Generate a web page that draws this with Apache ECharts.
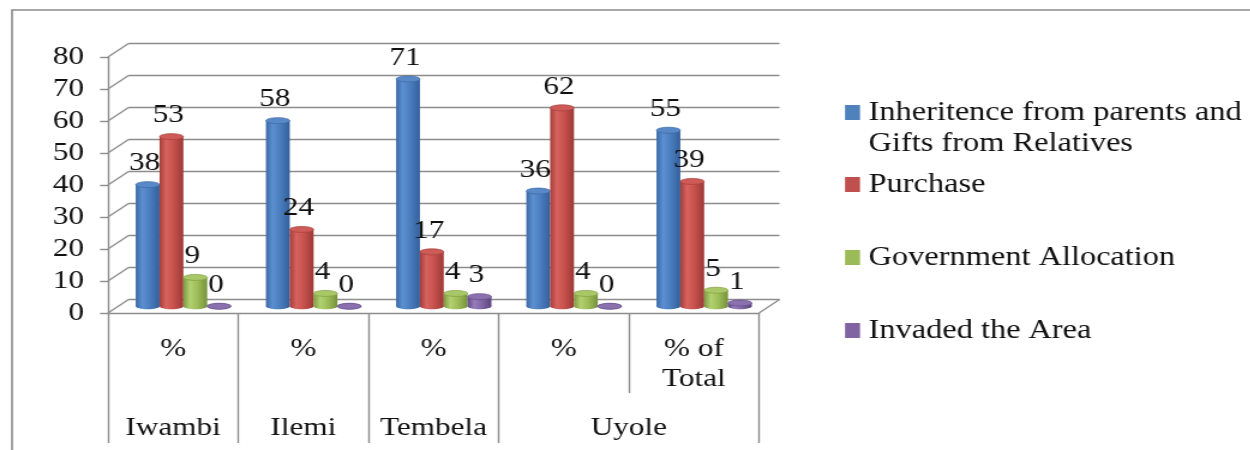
<!DOCTYPE html>
<html>
<head>
<meta charset="utf-8">
<title>Land acquisition by ward</title>
<script src="https://cdn.jsdelivr.net/npm/echarts@6/dist/echarts.min.js"></script>
<style>
  html, body { margin: 0; padding: 0; background: #fff; overflow: hidden; }
  #chart { height: 450px; transform-origin: 0 0; }
</style>
</head>
<body>
<div id="chart"></div>
<script>
// ---- data -------------------------------------------------------------
const COLUMNS = ['%', '%', '%', '%', '% of\nTotal'];
const GROUPS = ['Iwambi', 'Ilemi', 'Tembela', 'Uyole'];
const GROUP_SIZES = [1, 1, 1, 2];          // columns covered by each group
const SERIES_NAMES = [
  'Inheritence from parents and\nGifts from Relatives',
  'Purchase',
  'Government Allocation',
  'Invaded the Area'
];
const INHERITANCE = [38, 58, 71, 36, 55];
const PURCHASE    = [53, 24, 17, 62, 39];
const GOVERNMENT  = [9, 4, 4, 4, 5];
const INVADED     = [0, 0, 3, 0, 1];
const Y_TICKS = [0, 10, 20, 30, 40, 50, 60, 70, 80];

// ---- layout -----------------------------------------------------------
// The page is drawn on a narrower canvas and stretched horizontally,
// which gives the wide serif lettering of the original sheet.
const SX = 1.2;
const px = x => x / SX;
const el = document.getElementById('chart');
el.style.width = (1250 / SX) + 'px';
el.style.transform = 'scaleX(' + SX + ')';

const FONT = "'Liberation Serif', 'Times New Roman', serif";
const LINE = '#8d8d8d';
const TEXT = '#111';
const FRONT = { left: 108, top: 57, width: 651, height: 256 };
const DEPTH_X = 20.5, DEPTH_Y = 13.5;
const BAR_FRACTION = 0.183;
const RY = 3;

const groupEdges = [0];
GROUP_SIZES.forEach(n => groupEdges.push(groupEdges[groupEdges.length - 1] + n));
const groupCenters = GROUPS.map((g, i) => (groupEdges[i] + groupEdges[i + 1]) / 2);

const PALETTE = [
  { base: '#4F81BD', side: ['#3a69a6', '#5c90d1', '#4a7dbd', '#33609c'], top: '#5888c6', rim: '#3c6aa6' },
  { base: '#C0504D', side: ['#a43e3b', '#d8625e', '#c6514d', '#9c3936'], top: '#cd5b57', rim: '#a8413e' },
  { base: '#9BBB59', side: ['#7d9941', '#b2d271', '#9dbd58', '#77923b'], top: '#a8c867', rim: '#819e45' },
  { base: '#8064A2', side: ['#624a89', '#977cbb', '#8166a4', '#5b447f'], top: '#8b70ae', rim: '#664d8c' }
];
const VALUES = [INHERITANCE, PURCHASE, GOVERNMENT, INVADED];

function sideFill(stops) {
  return {
    type: 'linear', x: 0, y: 0, x2: 1, y2: 0,
    colorStops: [
      { offset: 0, color: stops[0] },
      { offset: 0.28, color: stops[1] },
      { offset: 0.6, color: stops[2] },
      { offset: 1, color: stops[3] }
    ]
  };
}

// One cylinder per data point, laid side by side inside the category band.
function cylinderRenderer(si) {
  const pal = PALETTE[si];
  return function (params, api) {
    const ci = api.value(0);
    const v = api.value(1);
    const band = api.size([1, 0])[0];
    const bw = band * BAR_FRACTION;
    const base = api.coord([ci, 0]);
    const top = api.coord([ci, v]);
    const x = base[0] - bw * 2 + bw * si;
    const cx = x + bw / 2;
    const fill = sideFill(pal.side);
    return {
      type: 'group',
      children: [
        { type: 'ellipse', shape: { cx: cx, cy: base[1], rx: bw / 2, ry: RY }, style: { fill: fill } },
        { type: 'rect', shape: { x: x, y: top[1], width: bw, height: base[1] - top[1] }, style: { fill: fill } },
        { type: 'ellipse', shape: { cx: cx, cy: top[1], rx: bw / 2, ry: RY },
          style: { fill: pal.top, stroke: pal.rim, lineWidth: 0.7 } },
        { type: 'text', z2: 100,
          style: { text: String(v), x: cx - px(3), y: top[1] - 21, align: 'center', verticalAlign: 'middle',
                   fontFamily: FONT, fontSize: 26, fill: TEXT } }
      ]
    };
  };
}

// Left side wall lines and the right edge of the floor.
function frameRenderer(params, api) {
  const cs = params.coordSys;
  const y = api.coord([0, api.value(1)])[1];
  const style = { stroke: LINE, lineWidth: 1.4 };
  const children = [
    { type: 'line', shape: { x1: cs.x, y1: y, x2: cs.x + px(DEPTH_X), y2: y - DEPTH_Y }, style: style }
  ];
  if (api.value(1) === 0) {
    children.push({ type: 'line',
      shape: { x1: cs.x + cs.width, y1: y, x2: cs.x + cs.width + px(DEPTH_X), y2: y - DEPTH_Y }, style: style });
  }
  return { type: 'group', children: children };
}

const chart = echarts.init(el);

const textBase = { fontFamily: FONT, fontSize: 26, color: TEXT };
const LEGEND_TOPS = [66, 169, 242, 315];

const option = {
  animation: false,
  backgroundColor: '#fff',
  graphic: [{
    type: 'rect', silent: true, z: -10,
    shape: { x: px(12), y: 10, width: 2000, height: 1000 },
    style: { fill: 'none', stroke: '#8a8a8a', lineWidth: 1.6 }
  }],
  legend: SERIES_NAMES.map((name, i) => ({
    data: [name],
    // a blank first line keeps the marker level with the first line of a two-line name
    formatter: n => (n.indexOf('\n') >= 0 ? ' \n' + n : n),
    left: px(845), top: LEGEND_TOPS[i], orient: 'vertical', padding: 0,
    icon: 'rect', itemWidth: px(15), itemHeight: 15,
    textStyle: { fontFamily: FONT, fontSize: 27, lineHeight: 31, color: TEXT, padding: [0, 0, 0, 2] }
  })),
  grid: [
    { left: px(FRONT.left), top: FRONT.top, width: px(FRONT.width), height: FRONT.height },
    { left: px(FRONT.left + DEPTH_X), top: FRONT.top - DEPTH_Y, width: px(FRONT.width), height: FRONT.height },
    { left: px(FRONT.left + DEPTH_X / 2), top: FRONT.top - DEPTH_Y / 2, width: px(FRONT.width), height: FRONT.height }
  ],
  xAxis: [
    { // column labels directly under the floor
      gridIndex: 0, type: 'category', data: COLUMNS, boundaryGap: true,
      axisLine: { show: true, lineStyle: { color: LINE, width: 1.4 } },
      axisTick: { show: true, interval: 0, length: 80, lineStyle: { color: LINE, width: 1.4 } },
      axisLabel: Object.assign({ interval: 0, margin: 21, lineHeight: 30 }, textBase),
      splitLine: { show: false }
    },
    { // ward labels, one level lower
      gridIndex: 0, type: 'value', min: 0, max: COLUMNS.length, position: 'bottom', offset: 80,
      axisLine: { show: false },
      axisTick: { show: true, customValues: groupEdges, length: 50, lineStyle: { color: LINE, width: 1.4 } },
      axisLabel: Object.assign({
        customValues: groupCenters, margin: 22,
        formatter: function (val) {
          const i = groupCenters.indexOf(val);
          return i >= 0 ? GROUPS[i] : '';
        }
      }, textBase),
      splitLine: { show: false }
    },
    { gridIndex: 1, type: 'category', data: COLUMNS, show: false },
    { gridIndex: 2, type: 'category', data: COLUMNS, show: false }
  ],
  yAxis: [
    {
      gridIndex: 0, type: 'value', min: 0, max: 80, interval: 10,
      axisLine: { show: true, lineStyle: { color: LINE, width: 1.4 } },
      axisTick: { show: true, length: px(8), lineStyle: { color: LINE, width: 1.4 } },
      axisLabel: Object.assign({ margin: px(24) }, textBase),
      splitLine: { show: false }
    },
    {
      gridIndex: 1, type: 'value', min: 0, max: 80, interval: 10,
      axisLine: { show: false }, axisTick: { show: false }, axisLabel: { show: false },
      splitLine: { show: true, lineStyle: { color: LINE, width: 1.4 } }
    },
    { gridIndex: 2, type: 'value', min: 0, max: 80, show: false }
  ],
  series: [
    {
      type: 'custom', name: 'frame', silent: true, xAxisIndex: 0, yAxisIndex: 0, z: 1,
      renderItem: frameRenderer,
      data: Y_TICKS.map(v => [0, v])
    }
  ].concat(SERIES_NAMES.map((name, si) => ({
    type: 'custom', name: name, xAxisIndex: 3, yAxisIndex: 2,
    itemStyle: { color: PALETTE[si].base },
    renderItem: cylinderRenderer(si),
    data: VALUES[si].map((v, ci) => [ci, v])
  })))
};

chart.setOption(option);
</script>
</body>
</html>
